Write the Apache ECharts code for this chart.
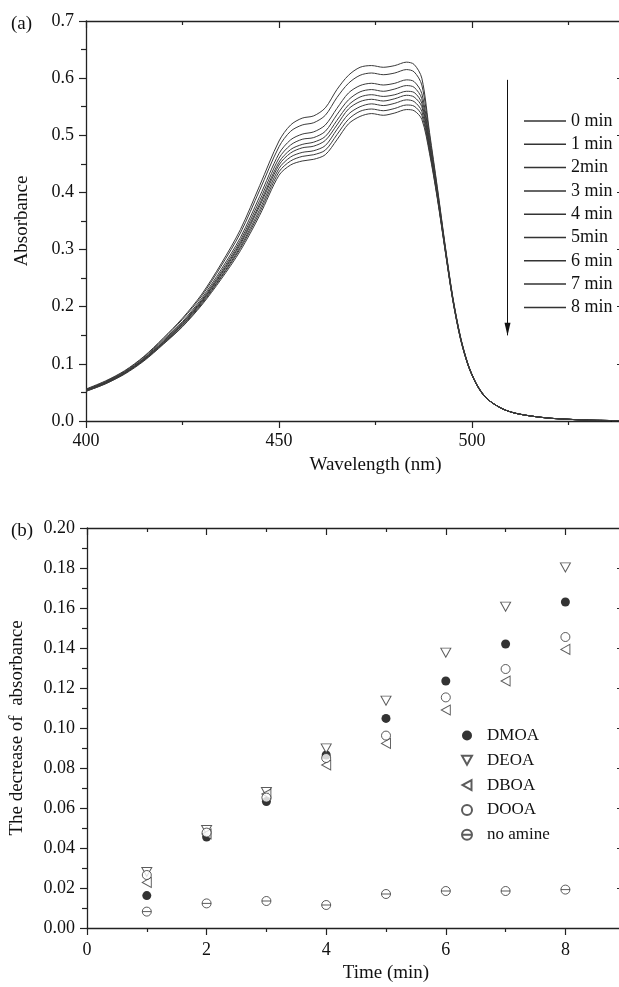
<!DOCTYPE html>
<html>
<head>
<meta charset="utf-8">
<script src="https://cdn.jsdelivr.net/npm/echarts@6/dist/echarts.min.js"></script>
<style>html,body{margin:0;padding:0;background:#fff;}#c{width:619px;height:987px;}</style>
</head>
<body>
<div id="c"></div>
<script>
// ---- Panel (a) data ----
const wavelengths = [400,405,410,415,420,425,430,435,440,445,450,453,456,459,462,465,468,471,474,477,480,483,485,487,489,491,493,495,497,499,501,503,505,508,511,515,520,525,530,540];
const min0 = [0.056,0.070,0.088,0.113,0.145,0.180,0.222,0.275,0.335,0.412,0.490,0.518,0.530,0.534,0.548,0.580,0.605,0.619,0.622,0.619,0.622,0.628,0.624,0.600,0.505,0.410,0.310,0.218,0.148,0.099,0.067,0.046,0.033,0.021,0.014,0.009,0.005,0.003,0.0015,0.0005];
const min1 = [0.055,0.069,0.087,0.112,0.143,0.178,0.219,0.271,0.329,0.404,0.480,0.507,0.518,0.522,0.535,0.566,0.591,0.605,0.609,0.606,0.609,0.615,0.611,0.588,0.499,0.407,0.308,0.217,0.147,0.099,0.067,0.046,0.033,0.021,0.014,0.009,0.005,0.003,0.0015,0.0005];
const min2 = [0.055,0.068,0.086,0.110,0.141,0.174,0.215,0.265,0.321,0.393,0.468,0.492,0.502,0.506,0.518,0.547,0.574,0.587,0.591,0.588,0.591,0.597,0.594,0.573,0.491,0.403,0.306,0.216,0.147,0.098,0.067,0.046,0.033,0.021,0.014,0.009,0.005,0.003,0.0015,0.0005];
const min3 = [0.054,0.067,0.085,0.109,0.139,0.172,0.212,0.261,0.316,0.386,0.460,0.483,0.493,0.496,0.507,0.536,0.562,0.576,0.580,0.577,0.581,0.587,0.584,0.564,0.487,0.400,0.305,0.215,0.146,0.098,0.067,0.046,0.033,0.021,0.014,0.009,0.005,0.003,0.0015,0.0005];
const min4 = [0.054,0.067,0.084,0.108,0.138,0.171,0.210,0.258,0.312,0.380,0.453,0.475,0.484,0.488,0.498,0.526,0.553,0.567,0.571,0.568,0.571,0.577,0.575,0.556,0.482,0.398,0.304,0.214,0.146,0.098,0.066,0.045,0.033,0.021,0.014,0.009,0.005,0.003,0.0015,0.0005];
const min5 = [0.053,0.066,0.084,0.107,0.137,0.169,0.209,0.256,0.309,0.376,0.448,0.469,0.478,0.481,0.491,0.518,0.546,0.559,0.563,0.560,0.564,0.570,0.567,0.550,0.479,0.396,0.303,0.214,0.145,0.098,0.066,0.045,0.033,0.021,0.014,0.009,0.005,0.003,0.0015,0.0005];
const min6 = [0.053,0.066,0.083,0.107,0.136,0.168,0.207,0.253,0.305,0.370,0.442,0.462,0.470,0.473,0.482,0.510,0.537,0.550,0.555,0.552,0.556,0.562,0.559,0.542,0.475,0.394,0.302,0.213,0.145,0.097,0.066,0.045,0.033,0.021,0.014,0.009,0.005,0.003,0.0015,0.0005];
const min7 = [0.052,0.065,0.083,0.106,0.135,0.166,0.205,0.251,0.302,0.365,0.436,0.455,0.463,0.466,0.474,0.501,0.528,0.542,0.546,0.543,0.547,0.553,0.551,0.535,0.472,0.392,0.301,0.213,0.144,0.097,0.066,0.045,0.033,0.021,0.014,0.009,0.005,0.003,0.0015,0.0005];
const min8 = [0.052,0.065,0.082,0.105,0.134,0.165,0.203,0.248,0.298,0.360,0.430,0.448,0.455,0.458,0.466,0.492,0.520,0.533,0.538,0.535,0.539,0.545,0.543,0.528,0.468,0.390,0.300,0.212,0.144,0.097,0.066,0.045,0.033,0.021,0.014,0.009,0.005,0.003,0.0015,0.0005];
const curveNames = ['0 min','1 min','2min','3 min','4 min','5min','6 min','7 min','8 min'];
const curves = [min0,min1,min2,min3,min4,min5,min6,min7,min8];
const arrowFrom = [509.2, 0.597];
const arrowTo = [509.2, 0.150];

// ---- Panel (b) data ----
const times = [1,2,3,4,5,6,7,8];
const DMOA = [0.0162,0.0455,0.0632,0.0865,0.1048,0.1235,0.1420,0.1630];
const DEOA = [0.0280,0.0490,0.0680,0.0898,0.1137,0.1377,0.1607,0.1803];
const DBOA = [0.0228,0.0470,0.0670,0.0815,0.0923,0.1090,0.1235,0.1393];
const DOOA = [0.0265,0.0477,0.0652,0.0850,0.0962,0.1153,0.1295,0.1455];
const noAmine = [0.0082,0.0123,0.0135,0.0115,0.0170,0.0185,0.0185,0.0192];

const FONT = 'Liberation Serif';
const AX = '#222';
const pair = (xs, ys) => xs.map((x, i) => [x, ys[i]]);

const chart = echarts.init(document.getElementById('c'), null, {renderer: 'canvas'});

function axisBase(extra) {
  return Object.assign({
    axisLine: {show: true, onZero: false, lineStyle: {color: AX, width: 1.3}},
    splitLine: {show: false},
    axisLabel: {color: '#111', fontFamily: FONT, fontSize: 18},
    nameTextStyle: {color: '#111', fontFamily: FONT, fontSize: 19},
  }, extra);
}

const lineSeries = curves.map((c, i) => ({
  type: 'line', name: curveNames[i], xAxisIndex: 0, yAxisIndex: 0,
  data: pair(wavelengths, c), symbol: 'none', smooth: 0.3,
  lineStyle: {color: '#3a3a3a', width: 1}, itemStyle: {color: '#333'},
  silent: true
}));

// arrow annotation placed in data coordinates
const arrowSeries = {
  type: 'line', xAxisIndex: 0, yAxisIndex: 0, silent: true,
  data: [arrowFrom, arrowTo], symbol: 'none',
  lineStyle: {color: '#111', width: 1},
  markPoint: {
    silent: true, symbol: 'path://M0,0L6,0L3,13Z', symbolSize: [6, 13], symbolOffset: [0, -6],
    itemStyle: {color: '#111'}, label: {show: false},
    data: [{coord: arrowTo}]
  }
};

const mk = '#333';
const scatterSeries = [
  {name: 'DMOA', data: DMOA, symbol: 'circle', symbolSize: 9, itemStyle: {color: '#000', borderColor: '#000', borderWidth: 0}},
  {name: 'DEOA', data: DEOA, symbol: 'path://M0,0L10,0L5,9Z', symbolSize: [10, 9], itemStyle: {color: '#fff', borderColor: mk, borderWidth: 1}},
  {name: 'DBOA', data: DBOA, symbol: 'path://M9,0L9,10L0,5Z', symbolSize: [9, 10], itemStyle: {color: '#fff', borderColor: mk, borderWidth: 1}},
  {name: 'DOOA', data: DOOA, symbol: 'circle', symbolSize: 9, itemStyle: {color: '#fff', borderColor: mk, borderWidth: 1}},
  {name: 'no amine', data: noAmine, symbol: 'path://M0,5A5,5 0 1,1 10,5A5,5 0 1,1 0,5ZM0,5L10,5', symbolSize: 9, itemStyle: {color: 'rgba(255,255,255,0)', borderColor: mk, borderWidth: 1}}
].map(s => Object.assign({type: 'scatter', xAxisIndex: 2, yAxisIndex: 2, silent: true}, s, {data: pair(times, s.data)}));

const option = {
  animation: false,
  backgroundColor: '#fff',
  title: [
    {text: '(a)', left: 6, top: 10, textStyle: {fontFamily: FONT, fontSize: 19, fontWeight: 'normal', color: '#111'}},
    {text: '(b)', left: 6, top: 517, textStyle: {fontFamily: FONT, fontSize: 19, fontWeight: 'normal', color: '#111'}}
  ],
  grid: [
    {left: 86, top: 21, width: 579, height: 400, outerBoundsMode: 'none', containLabel: false},
    {left: 87, top: 528, width: 598, height: 400, outerBoundsMode: 'none', containLabel: false}
  ],
  xAxis: [
    axisBase({gridIndex: 0, type: 'value', position: 'bottom', min: 400, max: 550, interval: 50,
      axisTick: {show: true, inside: false, length: 7, lineStyle: {color: AX, width: 1.2}},
      minorTick: {show: true, splitNumber: 2, length: 4, lineStyle: {color: AX, width: 1.2}},
      minorSplitLine: {show: false},
      axisLabel: {color: '#111', fontFamily: FONT, fontSize: 18, margin: 11},
      name: 'Wavelength (nm)', nameLocation: 'middle', nameGap: 35}),
    axisBase({gridIndex: 0, type: 'value', position: 'top', min: 400, max: 550, interval: 50,
      axisTick: {show: true, inside: true, length: 7, lineStyle: {color: AX, width: 1.2}},
      minorTick: {show: true, splitNumber: 2, length: 4, lineStyle: {color: AX, width: 1.2}},
      axisLabel: {show: false}}),
    axisBase({gridIndex: 1, type: 'value', position: 'bottom', min: 0, max: 10, interval: 2,
      axisTick: {show: true, inside: false, length: 7, lineStyle: {color: AX, width: 1.2}},
      minorTick: {show: true, splitNumber: 2, length: 4, lineStyle: {color: AX, width: 1.2}},
      axisLabel: {color: '#111', fontFamily: FONT, fontSize: 18, margin: 13},
      name: 'Time (min)', nameLocation: 'middle', nameGap: 36}),
    axisBase({gridIndex: 1, type: 'value', position: 'top', min: 0, max: 10, interval: 2,
      axisTick: {show: true, inside: true, length: 7, lineStyle: {color: AX, width: 1.2}},
      minorTick: {show: true, splitNumber: 2, length: 4, lineStyle: {color: AX, width: 1.2}},
      axisLabel: {show: false}})
  ],
  yAxis: [
    axisBase({gridIndex: 0, type: 'value', position: 'left', min: 0, max: 0.7, interval: 0.1,
      axisTick: {show: true, inside: false, length: 7, lineStyle: {color: AX, width: 1.2}},
      minorTick: {show: true, splitNumber: 2, length: 5, lineStyle: {color: AX, width: 1.2}},
      axisLabel: {color: '#111', fontFamily: FONT, fontSize: 18, margin: 12, formatter: v => v.toFixed(1)},
      name: 'Absorbance', nameLocation: 'middle', nameGap: 54}),
    axisBase({gridIndex: 0, type: 'value', position: 'right', offset: -41, min: 0, max: 0.7, interval: 0.1,
      axisTick: {show: true, inside: true, length: 7, lineStyle: {color: AX, width: 1.2}},
      minorTick: {show: true, splitNumber: 2, length: 4, lineStyle: {color: AX, width: 1.2}},
      axisLabel: {show: false}}),
    axisBase({gridIndex: 1, type: 'value', position: 'left', min: 0, max: 0.2, interval: 0.02,
      axisTick: {show: true, inside: false, length: 7, lineStyle: {color: AX, width: 1.2}},
      minorTick: {show: true, splitNumber: 2, length: 5, lineStyle: {color: AX, width: 1.2}},
      axisLabel: {color: '#111', fontFamily: FONT, fontSize: 18, margin: 12, formatter: v => v.toFixed(2)},
      name: 'The decrease of  absorbance', nameLocation: 'middle', nameGap: 60}),
    axisBase({gridIndex: 1, type: 'value', position: 'right', offset: -61, min: 0, max: 0.2, interval: 0.02,
      axisTick: {show: true, inside: true, length: 7, lineStyle: {color: AX, width: 1.2}},
      minorTick: {show: true, splitNumber: 2, length: 4, lineStyle: {color: AX, width: 1.2}},
      axisLabel: {show: false}})
  ],
  legend: [
    {data: curveNames, orient: 'vertical', left: 519, top: 107, itemWidth: 42, itemHeight: 1.5, itemGap: 5.3,
      icon: 'rect',
      textStyle: {fontFamily: FONT, fontSize: 18, lineHeight: 18, color: '#111'}, selectedMode: false},
    {data: ['DMOA','DEOA','DBOA','DOOA','no amine'], orient: 'vertical', left: 456, top: 722, itemWidth: 10, itemHeight: 10, itemGap: 7.8,
      textStyle: {fontFamily: FONT, fontSize: 17, lineHeight: 16, color: '#111', padding: [0, 0, 0, 10]}, selectedMode: false}
  ],
  series: lineSeries.concat([arrowSeries]).concat(scatterSeries)
};
chart.setOption(option);
</script>
</body>
</html>
